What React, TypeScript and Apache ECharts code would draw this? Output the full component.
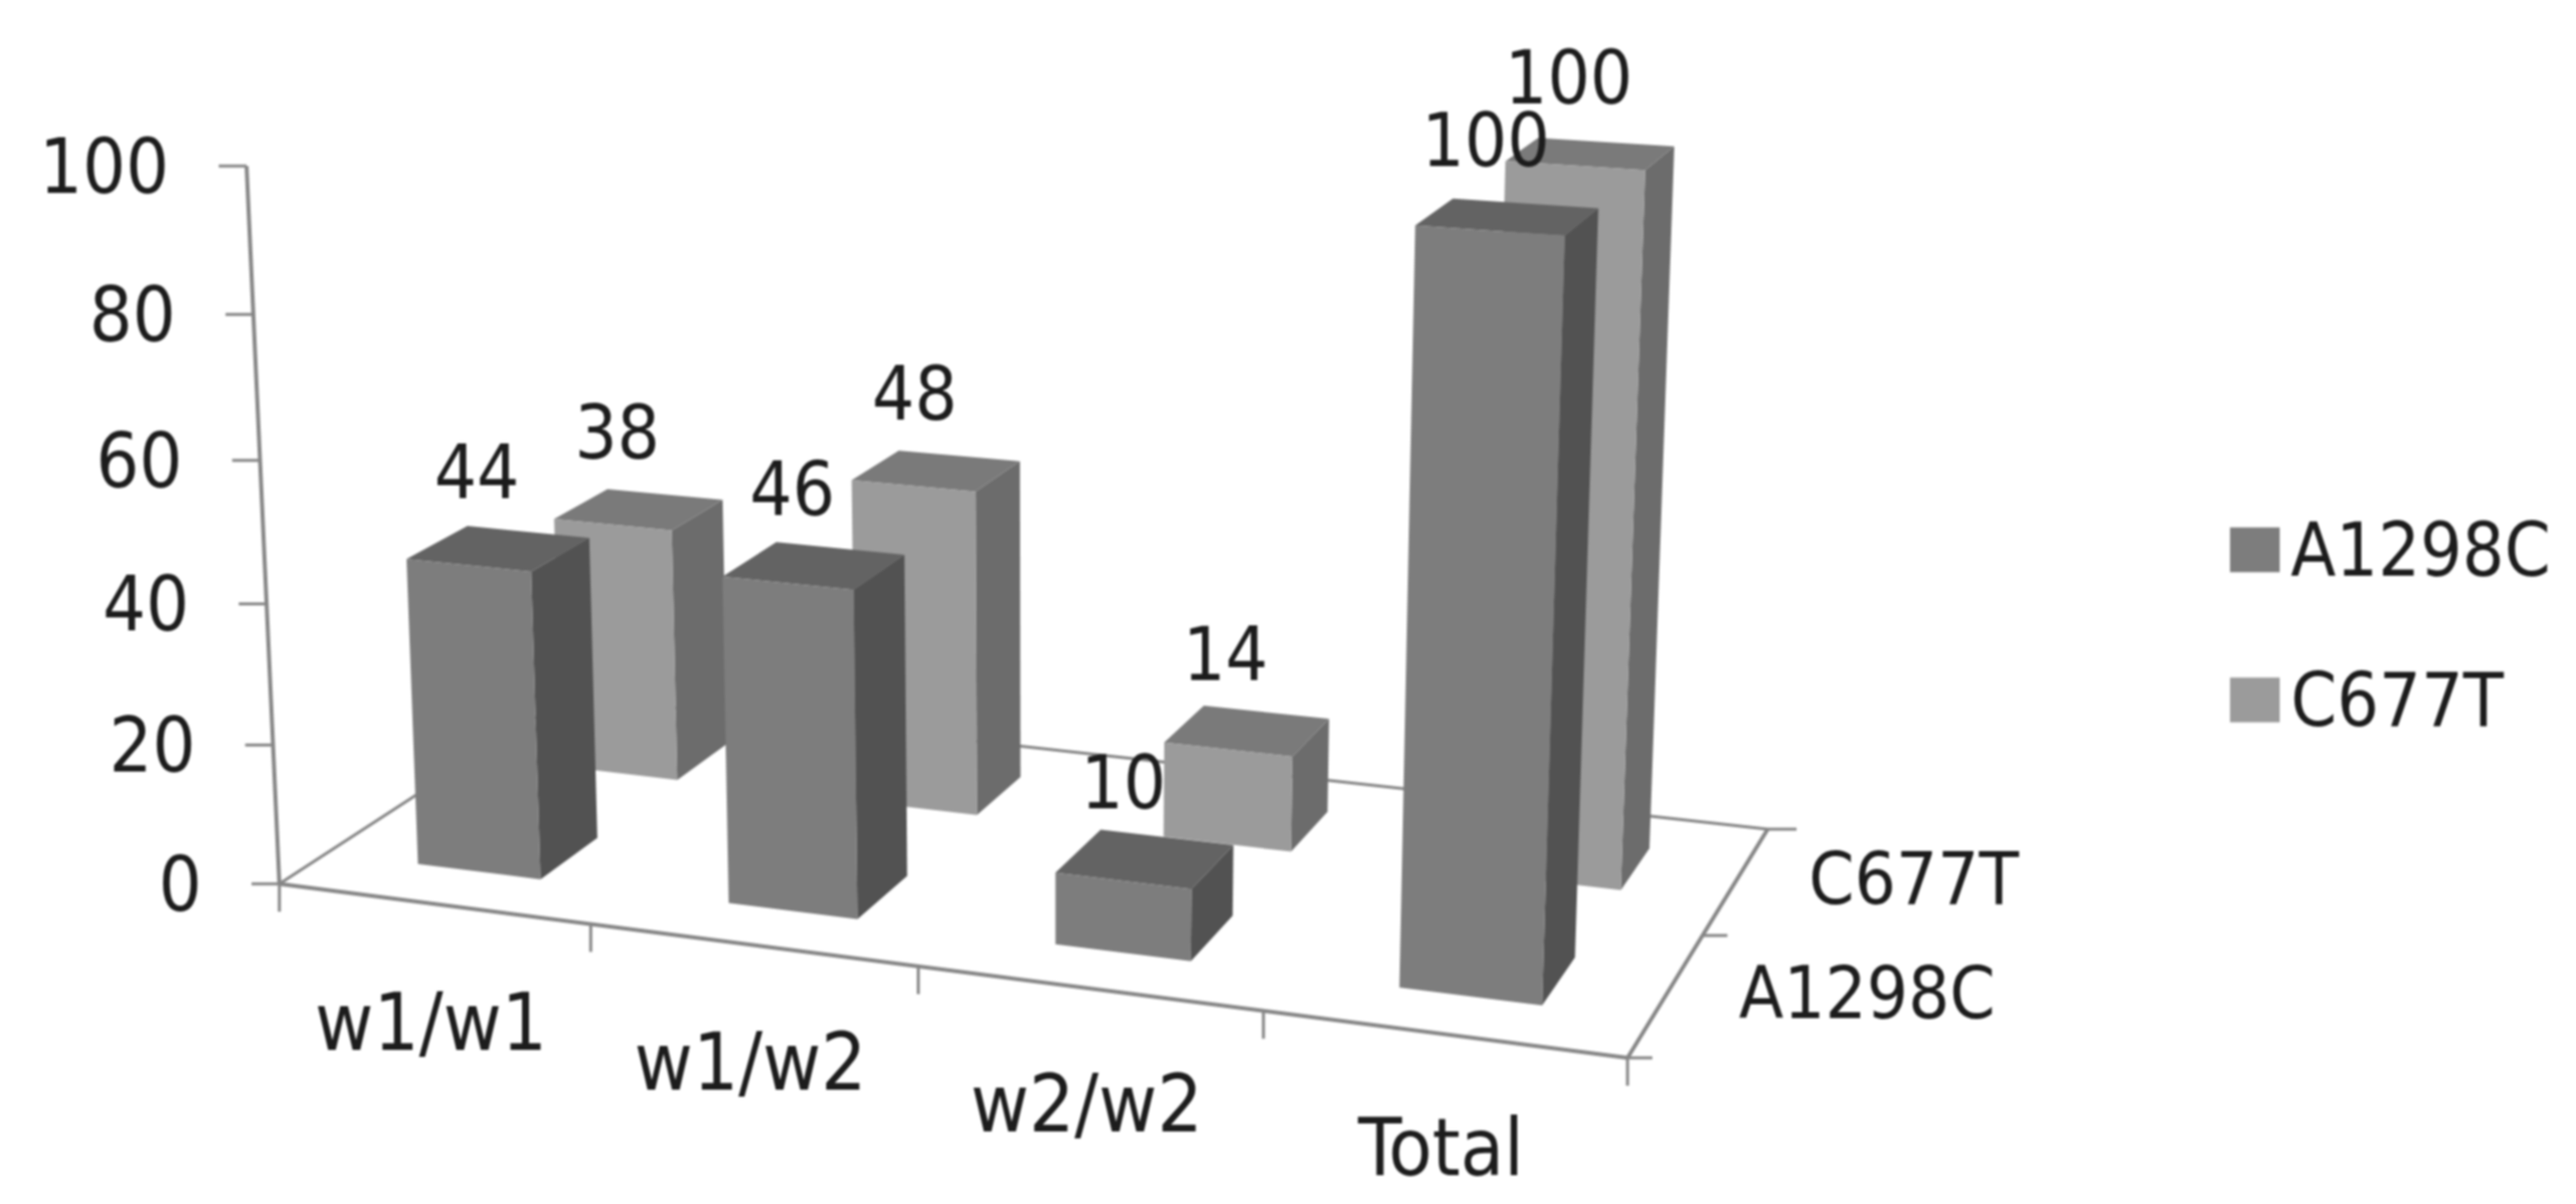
import React, { useEffect, useRef } from "react";
import * as echarts from "echarts";

const categories = ["w1/w1", "w1/w2", "w2/w2", "Total"];
const rowNames = ["A1298C", "C677T"];
const a1298c = [44, 46, 10, 100];
const c677t = [38, 48, 14, 100];
const yTicks = [0, 20, 40, 60, 80, 100];

const FONT = "'DejaVu Sans Condensed', 'DejaVu Sans', sans-serif";
const INK = "#1c1c1c";
const AXIS = "#868686";

// Perspective camera: floor corners on the page and the vanishing point of verticals.
const O = [281, 889], FR = [1637, 1064], BR = [1778, 834], BL = [572, 700];
const TOP = [248, 167];
const V = [1057, 17870];

const sq = (() => {
  const [x0, y0] = O, [x1, y1] = FR, [x2, y2] = BR, [x3, y3] = BL;
  const dx1 = x1 - x2, dx2 = x3 - x2, sx = x0 - x1 + x2 - x3;
  const dy1 = y1 - y2, dy2 = y3 - y2, sy = y0 - y1 + y2 - y3;
  const den = dx1 * dy2 - dx2 * dy1;
  const g = (sx * dy2 - dx2 * sy) / den;
  const h = (dx1 * sy - sx * dy1) / den;
  return { a: x1 - x0 + g * x1, b: x3 - x0 + h * x3, c: x0, d: y1 - y0 + g * y1, e: y3 - y0 + h * y3, f: y0, g, h };
})();
const K = (O[1] - TOP[1]) / (TOP[1] - V[1]);

// x in category units (0..4), z in row units (0..2), t = share of the value axis (0..1)
function project(x: number, z: number, t: number): number[] {
  const u = x / categories.length, v = z / rowNames.length;
  const w = sq.g * u + sq.h * v + 1 + K * t;
  return [
    (sq.a * u + sq.b * v + sq.c + K * V[0] * t) / w,
    (sq.d * u + sq.e * v + sq.f + K * V[1] * t) / w,
  ];
}

// share of the axis, read through ECharts' own value scale
function share(api: any, value: number): number {
  const y0 = api.coord([0, 0])[1];
  const y1 = api.coord([0, 100])[1];
  return (y0 - api.coord([0, value])[1]) / (y0 - y1);
}

const line = (p: number[], q: number[], width: number) => ({
  type: "line",
  shape: { x1: p[0], y1: p[1], x2: q[0], y2: q[1] },
  style: { stroke: AXIS, lineWidth: width },
  silent: true,
});
const label = (text: string, x: number, y: number, align: string, fontSize: number, z2 = 0) => ({
  type: "text",
  x,
  y,
  z2,
  silent: true,
  style: {
    text,
    fill: INK,
    fontSize,
    fontFamily: FONT,
    align,
    verticalAlign: "middle",
    textAlign: align,
    textVerticalAlign: "middle",
  },
});

function barSeries(name: string, values: number[], row: number, front: string, top: string, side: string) {
  return {
    name,
    type: "custom",
    coordinateSystem: "cartesian2d",
    silent: true,
    itemStyle: { color: front },
    encode: { x: 0, y: 1 },
    data: values.map((v, i) => [i, v]),
    renderItem: (_: any, api: any) => {
      const i = api.value(0);
      const value = api.value(1);
      const t = share(api, value);
      const x0 = i + 0.3, x1 = i + 0.7, z0 = row + 0.3, z1 = row + 0.7;
      const poly = (pts: number[][], fill: string) => ({
        type: "polygon",
        shape: { points: pts },
        style: { fill },
      });
      const topC = project(i + 0.5, row + 0.5, t);
      return {
        type: "group",
        children: [
          poly([project(x1, z0, 0), project(x1, z1, 0), project(x1, z1, t), project(x1, z0, t)], side),
          poly([project(x0, z0, t), project(x1, z0, t), project(x1, z1, t), project(x0, z1, t)], top),
          poly([project(x0, z0, 0), project(x1, z0, 0), project(x1, z0, t), project(x0, z0, t)], front),
          label(String(value), topC[0] - 22, topC[1] - 77, "center", 75, 100),
        ],
      };
    },
  };
}

const hidden = { show: false };

export default function App() {
  const ref = useRef<HTMLDivElement>(null);
  useEffect(() => {
    document.body.style.margin = "0";
    const chart = echarts.init(ref.current!, null, { renderer: "svg" });
    chart.setOption({
      animation: false,
      backgroundColor: "#ffffff",
      grid: { left: 0, right: 0, top: 0, bottom: 0 },
      xAxis: { type: "category", data: categories, ...hidden },
      yAxis: { type: "value", min: 0, max: 100, interval: 20, ...hidden },
      legend: {
        left: 2238,
        top: 511,
        orient: "vertical",
        data: rowNames,
        icon: "rect",
        itemWidth: 50,
        itemHeight: 45,
        itemGap: 77,
        selectedMode: false,
        textStyle: { fontSize: 74, fontFamily: FONT, color: INK, padding: [0, 0, 0, 6] },
      },
      series: [
        {
          name: "floor",
          type: "custom",
          silent: true,
          data: [[0, 0]],
          renderItem: () => ({
            type: "group",
            children: [
              line(project(0, 0, 0), project(0, 2, 0), 3),
              line(project(0, 2, 0), project(4, 2, 0), 3),
              line(project(0, 0, 0), project(0, 0, 1), 4),
              line(project(0, 0, 0), project(4, 0, 0), 4),
              line(project(4, 0, 0), project(4, 2, 0), 4),
            ],
          }),
        },
        {
          name: "valueAxis",
          type: "custom",
          silent: true,
          data: yTicks.map((v) => [0, v]),
          renderItem: (_: any, api: any) => {
            const v = api.value(1);
            const p = project(0, 0, share(api, v));
            return {
              type: "group",
              children: [
                line(p, [p[0] - 28, p[1]], 3),
                label(String(v), p[0] - 78, p[1], "right", 76),
              ],
            };
          },
        },
        {
          name: "categoryAxis",
          type: "custom",
          silent: true,
          data: [...categories.map((_, i) => [i, 0])],
          renderItem: (_: any, api: any) => {
            const i = api.value(0);
            const p = project(i, 0, 0);
            const e = project(i + 1, 0, 0);
            const c = project(i + 0.5, 0, 0);
            const children: any[] = [
              line(p, [p[0], p[1] + 28], 3),
              label(categories[i], c[0] - 2, c[1] + 120 - i * 2, "center", 80),
            ];
            if (i === categories.length - 1) children.push(line(e, [e[0], e[1] + 28], 3));
            return { type: "group", children };
          },
        },
        {
          name: "rowAxis",
          type: "custom",
          silent: true,
          data: rowNames.map((_, i) => [i, 0]),
          renderItem: (_: any, api: any) => {
            const i = api.value(0);
            const p = project(4, i, 0);
            const e = project(4, i + 1, 0);
            const c = project(4, i + 0.5, 0);
            const children: any[] = [
              line(p, [p[0] + 25, p[1]], 3),
              label(rowNames[i], c[0] + 73, c[1] - 2, "left", 73),
            ];
            if (i === rowNames.length - 1) children.push(line(e, [e[0] + 29, e[1]], 3));
            return { type: "group", children };
          },
        },
        barSeries("C677T", c677t, 1, "#9b9b9b", "#7a7a7a", "#6c6c6c"),
        barSeries("A1298C", a1298c, 0, "#7d7d7d", "#636363", "#525252"),
      ],
    });
    return () => chart.dispose();
  }, []);
  return (
    <div
      ref={ref}
      style={{ position: "absolute", left: 0, top: 0, width: 2591, height: 1211, filter: "blur(0.8px)" }}
    />
  );
}
